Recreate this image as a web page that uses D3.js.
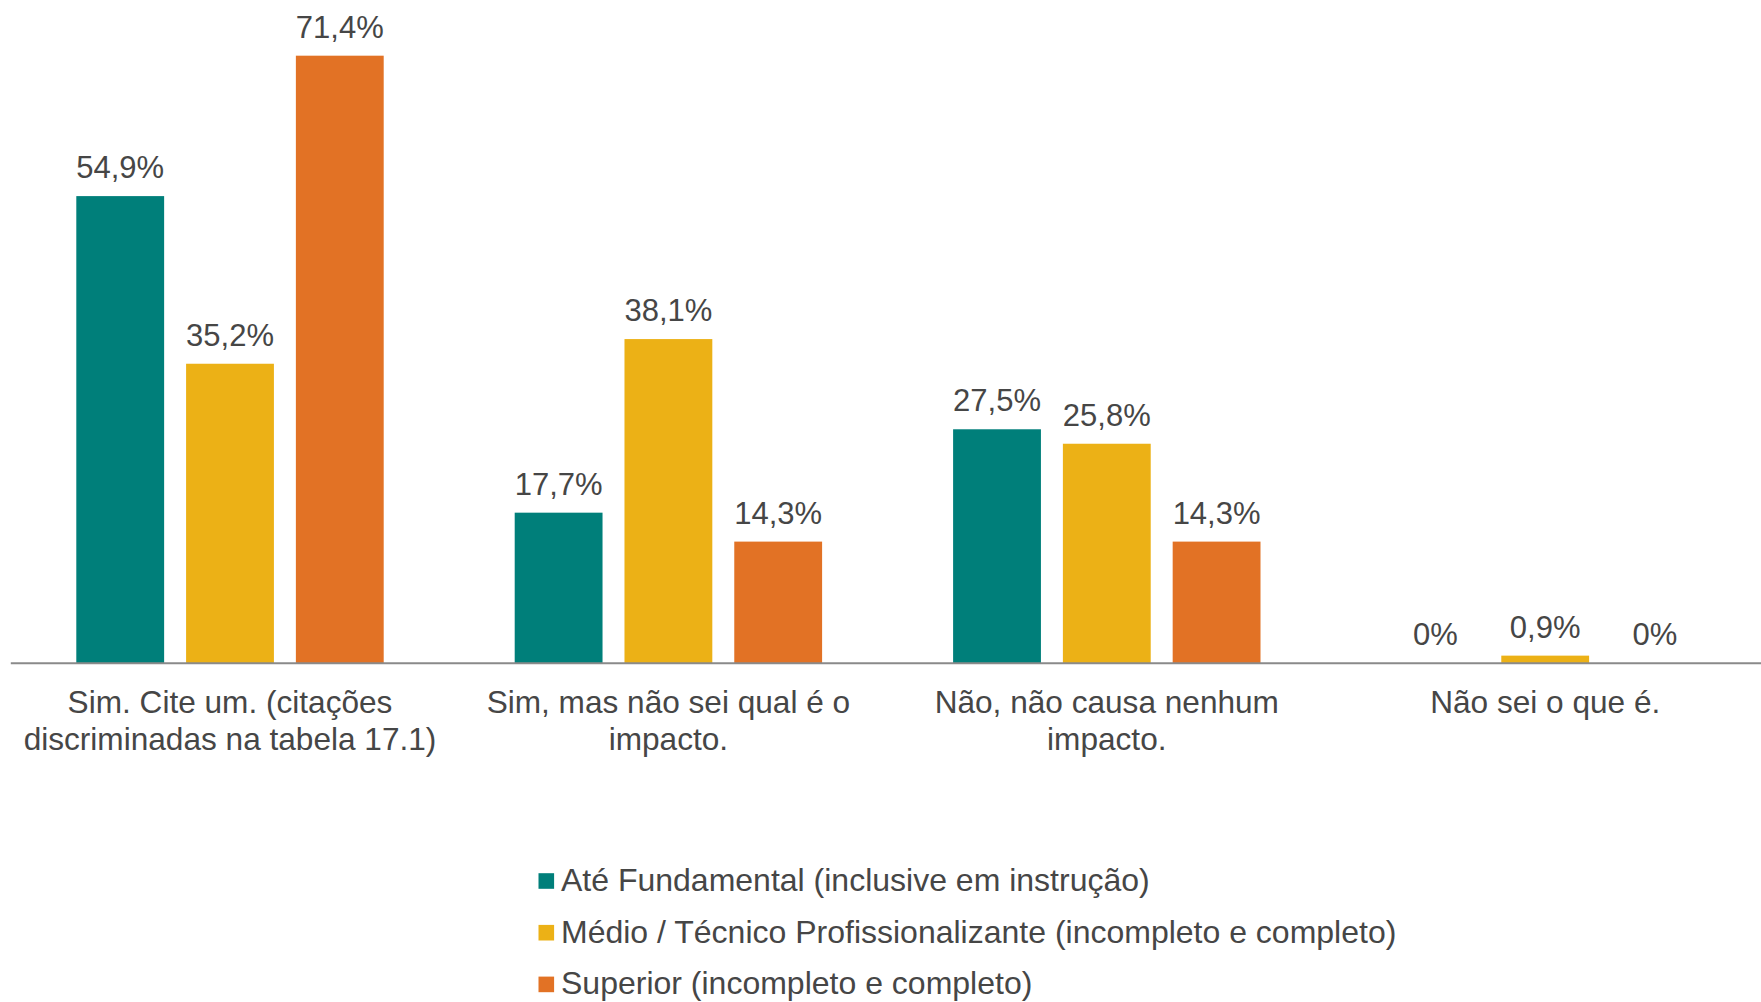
<!DOCTYPE html>
<html>
<head>
<meta charset="utf-8">
<script src="https://cdn.jsdelivr.net/npm/d3@7"></script>
<style>
  html, body { margin: 0; padding: 0; background: #ffffff; }
  svg { display: block; font-family: "Liberation Sans", Arial, sans-serif; }
</style>
</head>
<body>
<svg id="chart" width="1761" height="1002"></svg>
<script>
const categories = [
  "Sim. Cite um. (citações discriminadas na tabela 17.1)",
  "Sim, mas não sei qual é o impacto.",
  "Não, não causa nenhum impacto.",
  "Não sei o que é."
];
const seriesNames = [
  "Até Fundamental (inclusive em instrução)",
  "Médio / Técnico Profissionalizante (incompleto e completo)",
  "Superior (incompleto e completo)"
];
const fundamentalValues = [54.9, 17.7, 27.5, 0];
const medioValues = [35.2, 38.1, 25.8, 0.9];
const superiorValues = [71.4, 14.3, 14.3, 0];
const seriesColors = ["#007F7A", "#ECB116", "#E27225"];

const seriesValues = [fundamentalValues, medioValues, superiorValues];

const svg = d3.select("#chart");
const textColor = "#464646";
const baseline = 663.3;

const x0 = d3.scaleBand().domain(categories).range([10.8, 1764.4]).padding(0);
const x1 = d3.scaleBand().domain(seriesNames).range([65.5, 372.9]).paddingInner(0.2).paddingOuter(0);
const y = d3.scaleLinear().domain([0, 78]).range([baseline, baseline - 78 * 8.51]);

const rows = [];
categories.forEach((c, ci) => {
  seriesNames.forEach((s, si) => {
    rows.push({ cat: c, ser: s, si: si, value: seriesValues[si][ci] });
  });
});

const fmt = v => (v === 0 ? "0" : d3.format(".1f")(v).replace(".", ",")) + "%";

// bars
svg.append("g").selectAll("rect").data(rows).join("rect")
  .attr("x", d => x0(d.cat) + x1(d.ser))
  .attr("y", d => y(d.value))
  .attr("width", x1.bandwidth())
  .attr("height", d => baseline - y(d.value))
  .attr("fill", d => seriesColors[d.si]);

// value labels
svg.append("g").selectAll("text").data(rows).join("text")
  .attr("x", d => x0(d.cat) + x1(d.ser) + x1.bandwidth() / 2)
  .attr("y", d => y(d.value) - 18)
  .attr("text-anchor", "middle")
  .attr("font-size", 31)
  .attr("fill", textColor)
  .text(d => fmt(d.value));

// axis line
svg.append("line")
  .attr("x1", 10.8).attr("x2", 1761)
  .attr("y1", baseline).attr("y2", baseline)
  .attr("stroke", "#8a8a8a").attr("stroke-width", 2);

// category labels with wrapping
const catG = svg.append("g");
const catY = 713;
categories.forEach(c => {
  const cx = x0(c) + x0.bandwidth() / 2;
  const t = catG.append("text")
    .attr("x", cx)
    .attr("y", catY)
    .attr("text-anchor", "middle")
    .attr("font-size", 31.6)
    .attr("fill", textColor);
  const words = c.split(" ");
  let line = [];
  let lineNo = 0;
  let tspan = t.append("tspan").attr("x", cx).attr("y", catY);
  words.forEach(w => {
    line.push(w);
    tspan.text(line.join(" "));
    if (tspan.node().getComputedTextLength() > 425 && line.length > 1) {
      line.pop();
      tspan.text(line.join(" "));
      line = [w];
      lineNo++;
      tspan = t.append("tspan").attr("x", cx)
        .attr("y", catY + lineNo * 37).text(w);
    }
  });
});

// legend
const legend = svg.append("g");
seriesNames.forEach((s, i) => {
  const cy = 881 + i * 51.7;
  legend.append("rect")
    .attr("x", 538.5).attr("y", cy - 7.8)
    .attr("width", 15.6).attr("height", 15.6)
    .attr("fill", seriesColors[i]);
  legend.append("text")
    .attr("x", 561)
    .attr("y", cy + 10)
    .attr("font-size", 32)
    .attr("fill", textColor)
    .text(s);
});
</script>
</body>
</html>
